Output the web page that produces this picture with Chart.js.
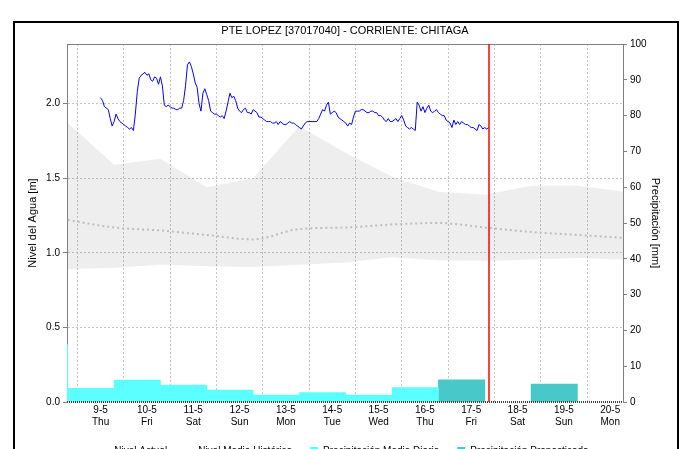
<!DOCTYPE html>
<html>
<head>
<meta charset="utf-8">
<title>PTE LOPEZ - CHITAGA</title>
<script src="https://cdn.jsdelivr.net/npm/chart.js@4.4.1/dist/chart.umd.min.js"></script>
<style>
  html, body { margin: 0; padding: 0; background: #fff; overflow: hidden; }
  #marco { position: absolute; left: 13px; top: 21px; width: 666px; height: 480px; border: 2px solid #000; box-sizing: border-box; }
  #nivel { position: absolute; left: 0; top: 0; }
</style>
</head>
<body>
<div id="marco"></div>
<canvas id="nivel" width="684" height="466"></canvas>
<script>
const titulo = 'PTE LOPEZ [37017040] - CORRIENTE: CHITAGA';

// eje x en horas contadas desde 9-5 00:00
const horasTicks = [0, 24, 48, 72, 96, 120, 144, 168, 192, 216, 240, 264];
const diasEtiqueta = ['9-5', '10-5', '11-5', '12-5', '13-5', '14-5', '15-5', '16-5', '17-5', '18-5', '19-5', '20-5'];
const diasSemana = ['Thu', 'Fri', 'Sat', 'Sun', 'Mon', 'Tue', 'Wed', 'Thu', 'Fri', 'Sat', 'Sun', 'Mon'];
const horaActual = 201;

const ticksNivel = [0, 0.5, 1.0, 1.5, 2.0];
const ticksPrecip = [0, 10, 20, 30, 40, 50, 60, 70, 80, 90, 100];

// nivel observado, un valor por hora desde 9-5 00:00
const nivelObservado = [
  2.04, 2.02, 1.98, 1.97, 1.96, 1.90, 1.85, 1.88, 1.93, 1.90,
  1.88, 1.87, 1.86, 1.85, 1.84, 1.83, 1.84, 1.82, 1.93, 2.08,
  2.17, 2.19, 2.20, 2.21, 2.19, 2.20, 2.16, 2.15, 2.18, 2.17,
  2.13, 2.18, 2.12, 1.99, 1.98, 1.99, 1.98, 1.97, 1.97, 1.96,
  1.96, 1.97, 1.97, 2.02, 2.12, 2.26, 2.28, 2.25, 2.20, 2.14,
  2.11, 2.00, 1.95, 2.07, 2.10, 2.06, 2.02, 1.95, 1.94, 1.93,
  1.93, 1.92, 1.91, 1.92, 1.90, 1.95, 2.01, 2.07, 2.04, 2.05,
  2.02, 1.97, 1.95, 1.94, 1.96, 1.97, 1.94, 1.94, 1.93, 1.96,
  1.95, 1.94, 1.91, 1.91, 1.90, 1.89, 1.88, 1.88, 1.88, 1.87,
  1.87, 1.88, 1.86, 1.88, 1.87, 1.86, 1.86, 1.87, 1.88, 1.87,
  1.87, 1.86, 1.85, 1.84, 1.83, 1.85, 1.87, 1.88, 1.88, 1.88,
  1.88, 1.88, 1.88, 1.90, 1.93, 1.96, 1.95, 1.99, 2.01, 1.93,
  1.94, 1.95, 1.94, 1.91, 1.90, 1.89, 1.88, 1.87, 1.85, 1.87,
  1.86, 1.91, 1.95, 1.95, 1.95, 1.96, 1.96, 1.95, 1.94, 1.94,
  1.95, 1.95, 1.94, 1.94, 1.92, 1.92, 1.91, 1.89, 1.88, 1.90,
  1.88, 1.88, 1.89, 1.90, 1.88, 1.90, 1.92, 1.89, 1.85, 1.84,
  1.83, 1.84, 1.83, 1.82, 2.01, 1.99, 1.95, 1.98, 1.94, 1.97,
  1.99, 1.95, 1.94, 1.95, 1.96, 1.94, 1.93, 1.92, 1.92, 1.89,
  1.88, 1.87, 1.84, 1.89, 1.86, 1.88, 1.86, 1.88, 1.87, 1.86,
  1.86, 1.85, 1.84, 1.84, 1.83, 1.82, 1.86, 1.85, 1.83, 1.84,
  1.83, 1.84
];

// historico diario, tomado a las 07:00
const horasHistorico = [-17, 7, 31, 55, 79, 103, 127, 151, 175, 199, 223, 247, 271];
const historicoMax = [1.87, 1.59, 1.63, 1.44, 1.50, 1.85, 1.67, 1.51, 1.41, 1.39, 1.45, 1.45, 1.41];
const historicoMin = [0.89, 0.90, 0.92, 0.91, 0.905, 0.92, 0.935, 0.97, 0.95, 0.945, 0.955, 0.965, 0.955];
const historicoMedio = [1.22, 1.17, 1.15, 1.12, 1.09, 1.16, 1.17, 1.19, 1.20, 1.17, 1.14, 1.12, 1.10];

// precipitacion de 07:00 a 07:00, centrada a las 19:00
const horasPrecip = [-29, -5, 19, 43, 67, 91, 115, 139, 163, 187, 211, 235, 259];
const precipObservada = [16, 3.8, 6.1, 4.7, 3.3, 1.9, 2.6, 1.9, 4.0, null, null, null, null];
const precipPronostico = [null, null, null, null, null, null, null, null, null, 6.2, null, 5.0, null];

const GRIS_EJE = '#808080';
const GRIS_REJILLA = '#c4c4c4';

const aPuntos = (xs, ys) => xs.map((x, i) => ({ x: x, y: ys[i] })).filter(p => p.y !== null);

Chart.defaults.font.family = '"Liberation Sans", Arial, Helvetica, sans-serif';
Chart.defaults.font.size = 10;
Chart.defaults.color = '#000';

// borde superior, linea punteada inferior y la linea roja del momento actual
const marcoYAhora = {
  id: 'marcoYAhora',
  afterDatasetsDraw(chart) {
    const { ctx, chartArea: a, scales } = chart;
    ctx.save();
    ctx.strokeStyle = GRIS_EJE;
    ctx.lineWidth = 1;
    ctx.beginPath();
    ctx.moveTo(a.left, a.top + 0.5);
    ctx.lineTo(a.right, a.top + 0.5);
    ctx.stroke();

    ctx.strokeStyle = '#404040';
    ctx.lineWidth = 2;
    ctx.setLineDash([1, 1]);
    ctx.beginPath();
    ctx.moveTo(a.left, a.bottom);
    ctx.lineTo(a.right, a.bottom);
    ctx.stroke();
    ctx.setLineDash([]);

    const x = Math.round(scales.x.getPixelForValue(horaActual));
    ctx.strokeStyle = '#ff0000';
    ctx.lineWidth = 1.5;
    ctx.beginPath();
    ctx.moveTo(x, a.top);
    ctx.lineTo(x, a.bottom);
    ctx.stroke();
    ctx.restore();
  }
};

new Chart(document.getElementById('nivel'), {
  type: 'line',
  data: {
    datasets: [
      {
        label: 'Nivel Actual',
        data: nivelObservado.map((v, i) => ({ x: i, y: v })),
        yAxisID: 'yN',
        borderColor: '#0000ff',
        backgroundColor: '#0000ff',
        borderWidth: 1,
        pointRadius: 0,
        pointStyle: 'line',
        tension: 0
      },
      {
        label: 'Nivel Medio Histórico',
        data: aPuntos(horasHistorico, historicoMedio),
        yAxisID: 'yN',
        borderColor: '#bdbdbd',
        backgroundColor: '#bdbdbd',
        borderWidth: 2,
        borderDash: [2, 3],
        pointRadius: 0,
        pointStyle: 'line',
        cubicInterpolationMode: 'monotone'
      },
      {
        type: 'bar',
        label: 'Precipitación Media Diaria',
        data: aPuntos(horasPrecip, precipObservada),
        yAxisID: 'yP',
        backgroundColor: '#5cffff',
        borderWidth: 0,
        grouped: false,
        barPercentage: 1,
        categoryPercentage: 1,
        pointStyle: 'rect'
      },
      {
        type: 'bar',
        label: 'Precipitación Pronosticada',
        data: aPuntos(horasPrecip, precipPronostico),
        yAxisID: 'yP',
        backgroundColor: '#48c8c8',
        borderWidth: 0,
        grouped: false,
        barPercentage: 1,
        categoryPercentage: 1,
        pointStyle: 'rect'
      },
      {
        label: 'Máximo Histórico',
        data: aPuntos(horasHistorico, historicoMax),
        yAxisID: 'yN',
        borderWidth: 0,
        pointRadius: 0,
        backgroundColor: 'rgba(0, 0, 0, 0.065)',
        fill: '+1',
        tension: 0
      },
      {
        label: 'Mínimo Histórico',
        data: aPuntos(horasHistorico, historicoMin),
        yAxisID: 'yN',
        borderWidth: 0,
        pointRadius: 0,
        tension: 0
      }
    ]
  },
  options: {
    responsive: false,
    animation: false,
    layout: { padding: { top: 24, left: 6, right: 0, bottom: 0 } },
    plugins: {
      title: {
        display: true,
        text: titulo,
        color: '#000',
        font: { size: 11, weight: 'normal' },
        padding: { top: 0, bottom: 6.8 }
      },
      legend: {
        position: 'bottom',
        labels: {
          usePointStyle: true,
          boxWidth: 8,
          boxHeight: 8,
          padding: 18,
          font: { size: 10 },
          filter: item => item.datasetIndex < 4
        }
      },
      tooltip: { enabled: false }
    },
    scales: {
      x: {
        type: 'linear',
        position: 'bottom',
        min: -17.4,
        max: 270.6,
        offset: false,
        afterBuildTicks: s => { s.ticks = horasTicks.map(v => ({ value: v })); },
        afterFit: s => { s.height = 26; },
        ticks: {
          padding: 2,
          maxRotation: 0,
          autoSkip: false,
          callback: v => {
            const i = horasTicks.indexOf(v);
            return i < 0 ? '' : [diasEtiqueta[i], diasSemana[i]];
          }
        },
        grid: { color: GRIS_REJILLA, drawTicks: false },
        border: { display: false, dash: [2, 2] }
      },
      yN: {
        type: 'linear',
        position: 'left',
        min: 0,
        max: 2.4,
        afterBuildTicks: s => { s.ticks = ticksNivel.map(v => ({ value: v })); },
        afterFit: s => { s.width = 61; },
        ticks: { padding: 3, callback: v => v.toFixed(1) },
        grid: {
          color: c => (c.tick && c.tick.value === 0) ? 'rgba(0,0,0,0)' : GRIS_REJILLA,
          tickColor: GRIS_EJE,
          tickLength: 4
        },
        border: { display: true, color: GRIS_EJE, width: 1, dash: [2, 2] },
        title: { display: true, text: 'Nivel del Agua [m]', font: { size: 11 }, padding: { top: 20, bottom: 0 } }
      },
      yP: {
        type: 'linear',
        position: 'right',
        min: 0,
        max: 100,
        afterBuildTicks: s => { s.ticks = ticksPrecip.map(v => ({ value: v })); },
        afterFit: s => { s.width = 61; },
        ticks: { padding: 3 },
        grid: { drawOnChartArea: false, tickColor: GRIS_EJE, tickLength: 4 },
        border: { display: true, color: GRIS_EJE, width: 1 },
        title: { display: true, text: 'Precipitación [mm]', font: { size: 11 }, padding: { top: 22, bottom: 0 } }
      }
    }
  },
  plugins: [marcoYAhora]
});
</script>
</body>
</html>
